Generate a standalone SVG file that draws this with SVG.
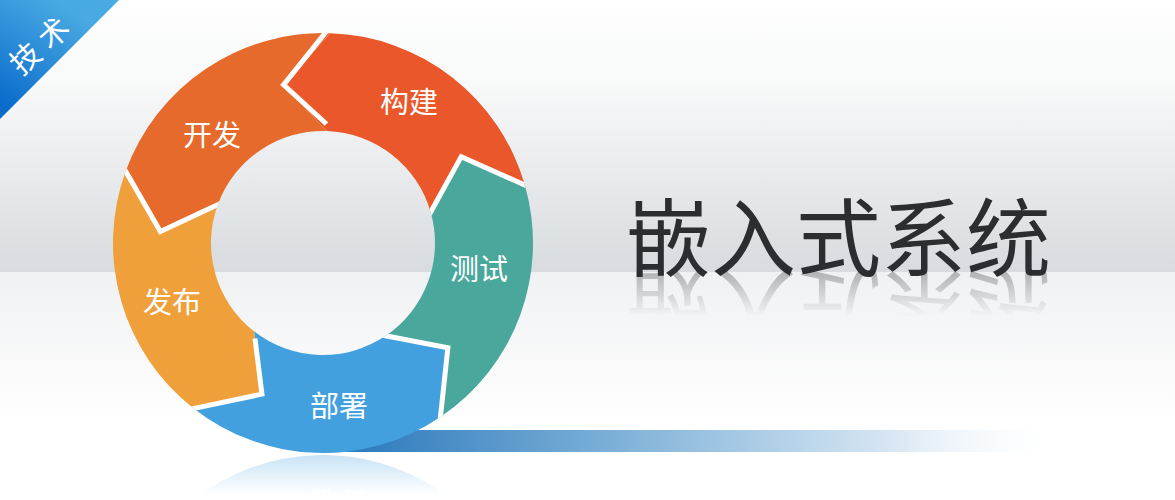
<svg xmlns="http://www.w3.org/2000/svg" xmlns:xlink="http://www.w3.org/1999/xlink" width="1175" height="500" viewBox="0 0 1175 500">
<style>
.lbl{font-family:"Noto Sans CJK SC","Noto Sans",sans-serif;font-size:29px;fill:#ffffff;text-anchor:middle;dominant-baseline:central}
.gap{fill:none;stroke:#ffffff;stroke-width:5;stroke-linejoin:miter}
.title{font-family:"Noto Sans CJK SC","Noto Sans",sans-serif;font-size:85px;fill:#2b2d31;text-anchor:middle;dominant-baseline:central}
</style>
<defs>
<linearGradient id="bgTop" x1="0" y1="0" x2="0" y2="272" gradientUnits="userSpaceOnUse">
<stop offset="0" stop-color="#ffffff"/>
<stop offset="0.3" stop-color="#f8f9f9"/>
<stop offset="1" stop-color="#d8dbdf"/>
</linearGradient>
<linearGradient id="bgBot" x1="0" y1="272" x2="0" y2="420" gradientUnits="userSpaceOnUse">
<stop offset="0" stop-color="#f0f1f3"/>
<stop offset="1" stop-color="#ffffff"/>
</linearGradient>
<linearGradient id="badgeGrad" x1="10" y1="110" x2="70" y2="10" gradientUnits="userSpaceOnUse">
<stop offset="0" stop-color="#0a6bcb"/>
<stop offset="1" stop-color="#49a9e3"/>
</linearGradient>
<linearGradient id="barGrad" x1="360" y1="0" x2="1065" y2="0" gradientUnits="userSpaceOnUse">
<stop offset="0" stop-color="#2f7cbe"/>
<stop offset="0.4" stop-color="#86b6da"/>
<stop offset="0.75" stop-color="#d6e6f3"/>
<stop offset="1" stop-color="#ffffff" stop-opacity="0"/>
</linearGradient>
<linearGradient id="fadeTitle" x1="0" y1="272" x2="0" y2="316" gradientUnits="userSpaceOnUse">
<stop offset="0" stop-color="#ffffff" stop-opacity="0.32"/>
<stop offset="1" stop-color="#ffffff" stop-opacity="0"/>
</linearGradient>
<linearGradient id="fadeRing" x1="0" y1="454" x2="0" y2="495" gradientUnits="userSpaceOnUse">
<stop offset="0" stop-color="#ffffff" stop-opacity="0.3"/>
<stop offset="1" stop-color="#ffffff" stop-opacity="0"/>
</linearGradient>
<mask id="mTitle" maskUnits="userSpaceOnUse" x="0" y="0" width="1175" height="500">
<rect x="580" y="271" width="520" height="60" fill="url(#fadeTitle)"/>
</mask>
<mask id="mRing" maskUnits="userSpaceOnUse" x="0" y="0" width="1175" height="500">
<rect x="100" y="454" width="460" height="46" fill="url(#fadeRing)"/>
</mask>
<clipPath id="ringClip">
<path clip-rule="evenodd" d="M113,243 a210,210 0 1,0 420,0 a210,210 0 1,0 -420,0 Z M211,243 a112,112 0 1,0 224,0 a112,112 0 1,0 -224,0 Z"/>
</clipPath>
</defs>

<g id="background">
<rect x="0" y="0" width="1175" height="272" fill="url(#bgTop)"/>
<rect x="0" y="272" width="1175" height="228" fill="url(#bgBot)"/>
</g>

<g id="badge">
<polygon points="0,0 119,0 0,119" fill="url(#badgeGrad)"/>
<text transform="translate(38,44) rotate(-42)" x="4" y="0" style="font-family:'Noto Sans CJK SC','Noto Sans',sans-serif;font-size:30px;fill:#ffffff;text-anchor:middle;dominant-baseline:central;letter-spacing:8px">技术</text>
</g>

<rect id="bar" x="340" y="430" width="725" height="22" fill="url(#barGrad)"/>

<g id="ring-reflection" mask="url(#mRing)">
<use xlink:href="#ring" transform="translate(0,908) scale(1,-1)"/>
</g>

<g id="ring">
<g id="node-goujian">
<path d="M330.33,33.13 L283.57,84.84 L326.91,131.07 A112,112 0 0 1 430.67,212.13 L461.22,156.63 L524.87,185.12 A210,210 0 0 0 330.33,33.13 Z" fill="#e9572a"/>
<text class="lbl" x="409" y="100">构建</text>
</g>
<g id="node-ceshi">
<path d="M524.87,185.12 L461.22,156.63 L430.67,212.13 A112,112 0 0 1 385.63,335.85 L447.86,347.78 L440.43,417.09 A210,210 0 0 0 524.87,185.12 Z" fill="#4aa79b"/>
<text class="lbl" x="479" y="267">测试</text>
</g>
<g id="node-bushu">
<path d="M440.43,417.09 L447.86,347.78 L385.63,335.85 A112,112 0 0 1 254.04,331.26 L261.94,394.13 L193.70,408.48 A210,210 0 0 0 440.43,417.09 Z" fill="#43a0df"/>
<text class="lbl" x="339" y="404">部署</text>
</g>
<g id="node-fabu">
<path d="M193.70,408.48 L261.94,394.13 L254.04,331.26 A112,112 0 0 1 217.75,204.70 L160.39,231.62 L125.66,171.18 A210,210 0 0 0 193.70,408.48 Z" fill="#f0a03a"/>
<text class="lbl" x="172" y="300">发布</text>
</g>
<g id="node-kaifa">
<path d="M125.66,171.18 L160.39,231.62 L217.75,204.70 A112,112 0 0 1 326.91,131.07 L283.57,84.84 L330.33,33.13 A210,210 0 0 0 125.66,171.18 Z" fill="#e56a2b"/>
<text class="lbl" x="212" y="133">开发</text>
</g>
<g id="connectors" clip-path="url(#ringClip)">
<polyline class="gap" points="331.0,25.7 283.57,84.84 326.5,124"/>
<polyline class="gap" points="532,188.3 461.22,156.63 428,217"/>
<polyline class="gap" points="439.6,425 447.86,347.78 379,334.5"/>
<polyline class="gap" points="186,410.1 261.94,394.13 255,338.5"/>
<polyline class="gap" points="121.5,164 160.39,231.62 224,201.7"/>
</g>
</g>

<g id="title">
<text id="titleText" class="title" x="838.5" y="232">嵌入式系统</text>
</g>
<g id="title-reflection" mask="url(#mTitle)">
<use xlink:href="#titleText" transform="translate(0,542) scale(1,-1)"/>
</g>
</svg>
